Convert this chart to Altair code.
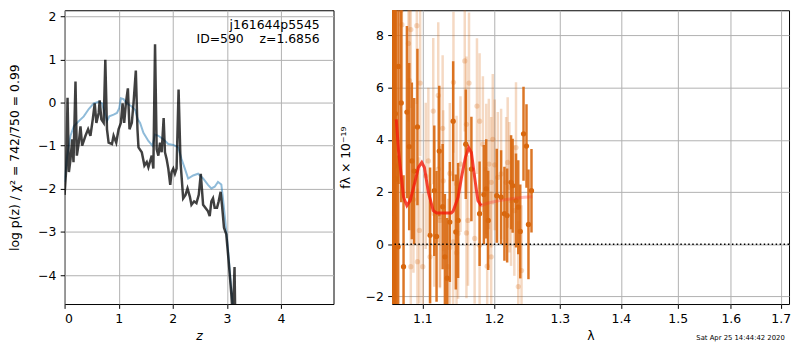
import altair as alt
import pandas as pd

# ---------------- left panel: log p(z) ----------------
z_pz = [0.000,0.031,0.055,0.080,0.110,0.141,0.165,0.202,0.227,0.263,
        0.294,0.325,0.386,0.435,0.478,0.521,0.557,0.588,0.631,0.649,
        0.680,0.723,0.753,0.784,0.814,0.876,0.906,0.955,0.998,1.041,
        1.072,1.102,1.133,1.170,1.200,1.243,1.274,1.317,1.347,1.366,
        1.427,1.476,1.519,1.549,1.611,1.641,1.672,1.702,1.733,1.764,
        1.794,1.831,1.855,1.886,1.917,1.953,1.978,2.009,2.039,2.070,
        2.107,2.143,2.192,2.235,2.272,2.315,2.345,2.394,2.437,2.480,
        2.517,2.560,2.602,2.651,2.682,2.713,2.743,2.774,2.817,2.848,
        2.884,2.909,2.946,2.988,3.031,3.080,3.111,3.141,3.160]
logp = [-2.14,-1.53,0.11,-1.61,-1.31,-0.85,-1.38,0.49,-1.23,-0.93,
        -0.55,-1.00,-0.77,-0.62,-0.77,-0.39,-0.02,-0.47,-0.24,0.05,
        -0.39,-0.47,0.99,-0.62,-0.93,-0.96,-0.77,-0.93,-0.62,-0.47,
        -0.02,-0.47,-0.02,0.33,-0.62,-0.47,-0.02,0.74,-0.62,-1.04,
        -1.15,-1.46,-1.38,-1.50,-1.23,-1.53,1.35,-1.08,-1.23,-0.93,
        -1.15,-0.36,-1.15,-1.31,-1.53,-1.91,-1.61,-1.53,-1.65,-1.53,
        0.30,-1.38,-2.22,-2.14,-1.99,-2.18,-2.37,-2.29,-2.33,-2.14,
        -1.65,-2.37,-2.44,-2.52,-2.63,-2.29,-2.22,-2.44,-2.44,-2.29,
        -2.07,-2.37,-2.90,-3.05,-3.66,-4.42,-5.00,-3.81,-5.50]

z_chi = [0,0.049,0.110,0.171,0.263,0.355,0.447,0.539,0.631,0.692,
         0.741,0.784,0.827,0.906,0.968,1.010,1.041,1.090,1.151,1.243,
         1.304,1.353,1.396,1.457,1.549,1.623,1.672,1.733,1.825,1.917,
         2.009,2.100,2.162,2.223,2.284,2.376,2.468,2.560,2.651,2.713,
         2.774,2.835,2.897,2.927,2.970,3.019,3.068,3.141]
logp_chi = [-1.84,-1.23,-0.77,-0.55,-0.43,-0.32,-0.15,-0.02,0.02,-0.02,
            -0.24,-0.43,-0.32,-0.28,-0.24,-0.13,0.10,0.08,-0.02,-0.09,
            -0.17,-0.39,-0.47,-0.70,-0.89,-1.00,-0.74,-0.77,-0.85,-0.96,
            -0.98,-1.04,-1.31,-1.53,-1.76,-1.69,-1.65,-1.76,-1.91,-1.99,
            -1.95,-1.84,-1.90,-2.22,-2.75,-3.36,-4.12,-5.20]

z_ticks = [0, 1, 2, 3, 4]
logp_ticks = [-4, -3, -2, -1, 0, 1, 2]

label_lines = ["j161644p5545", "ID=590\u00a0\u00a0\u00a0\u00a0z=1.6856"]
label_z = [4.716, 4.716]
label_y = [1.715, 1.374]

# ---------------- right panel: spectrum ----------------
lam_dark = [1.0606,1.0615,1.0625,1.0635,1.0645,1.0655,1.0681,
            1.0686,1.0721,1.0751,1.0795,1.0825,1.0860,1.0891,1.0934,
            1.1103,1.1160,1.1191,1.1228,1.1274,1.1305,1.1336,1.1373,
            1.1419,1.1456,1.1488,1.1595,1.1675,1.1792,1.1853,1.1887,
            1.1916,1.2040,1.2104,1.2153,1.2193,1.2251,1.2275,1.2325,
            1.2359,1.2389,1.2438,1.2483,1.2513,1.2559]
f_dark = [2.0,4.0,1.0,3.0,5.0,2.5,-0.10,
          6.81,5.41,-0.86,5.06,3.74,3.19,2.80,4.49,
          0.34,2.05,0.30,3.57,1.44,-0.48,-1.30,0.85,
          4.71,0.47,0.91,3.83,2.88,1.17,1.90,2.12,
          0.91,1.86,1.80,1.17,1.10,2.37,2.24,1.67,
          1.42,0.49,4.23,3.76,0.76,2.05]
e_dark = [15,14,14,13,12,12,3.5,
          4.5,3.8,3.5,3.3,3.2,3.0,2.8,3.0,
          2.6,2.5,2.5,2.5,2.4,2.4,2.3,2.3,
          2.3,2.2,2.2,2.1,2.0,2.0,1.9,1.9,
          1.9,1.8,1.8,1.8,1.8,1.8,1.8,1.8,
          1.8,1.8,1.8,1.6,2.1,1.6]

lam_light = [1.0631,1.0644,1.0721,1.0730,1.0846,1.0926,1.0815,1.0829,1.0970,
             1.1214,1.1146,1.1274,1.1214,1.1160,1.1103,1.0846,1.0934,1.1005,
             1.0960,1.1282,1.1373,1.1423,1.1581,1.1641,1.1605,1.1754,1.1792,
             1.1839,1.1887,1.1925,1.1959,1.1982,1.2011,1.2055,1.2104,1.2178,
             1.2226,1.2251,1.2300,1.2325,1.2359,1.2408,1.1959,1.1901,1.1792,
             1.1721,1.1627,1.1605,1.1466,1.1488,1.1350,1.1373,1.1237,1.1466,
             1.1521,1.2201,1.1080,1.1045,1.0881,1.1237,1.1419]
f_light = [1.5,0.5,8.96,8.41,8.22,8.37,7.69,6.27,6.17,
           5.70,5.10,4.44,2.88,1.17,-0.48,-0.86,-0.67,-0.86,
           0.53,2.43,2.71,6.20,7.02,6.17,4.59,5.29,4.71,
           3.83,2.88,3.07,2.37,4.02,3.04,2.56,2.69,2.37,
           2.18,1.67,1.29,3.70,-1.62,-1.01,-0.48,-0.84,-0.04,
           0.22,0.91,0.43,-0.33,0.41,-0.86,-0.13,0.91,2.32,
           3.07,3.13,3.19,2.62,1.71,1.06,0.09]
e_light = [3.5,3.5,3.0,3.0,3.0,3.0,3.0,3.0,2.8,
           2.8,2.8,2.8,2.8,2.8,2.8,2.8,2.8,2.8,
           2.8,2.7,2.7,2.7,2.7,2.7,2.6,2.6,2.6,
           2.6,2.5,2.5,2.5,2.5,2.5,2.5,2.5,2.5,
           2.5,2.5,2.5,2.5,2.5,2.5,2.5,2.5,2.5,
           2.5,2.5,2.5,2.5,2.5,2.6,2.6,2.6,2.6,
           2.6,2.5,2.8,2.8,2.8,2.7,2.6]

lam_model = [1.0657,1.0686,1.0751,1.0795,1.0838,1.0904,1.0947,1.0992,1.1027,
             1.1080,1.1146,1.1190,1.1393,1.1419,1.1488,1.1535,1.1590,1.1636,
             1.1675,1.1721,1.1768,1.1815]
f_model = [4.78,3.57,1.80,1.48,1.67,2.43,2.94,3.13,2.94,
           1.99,1.29,1.20,1.20,1.27,1.80,2.56,3.32,3.70,
           3.51,2.56,1.67,1.48]

lam_model2 = [1.1790,1.1815,1.1880,1.1980,1.2100,1.2230,1.2350,1.2450,1.2572]
f_model2 = [1.50,1.48,1.55,1.62,1.68,1.73,1.77,1.80,1.82]

lam_ticks = [1.1, 1.2, 1.3, 1.4, 1.5, 1.6, 1.7]
f_ticks = [-2, 0, 2, 4, 6, 8]

stamp = ["Sat Apr 25 14:44:42 2020"]
stamp_lam = [1.7084]
stamp_f = [-3.65]

FONT = "DejaVu Sans"
DARK = "#d8670e"

# ---------------- build left ----------------
xz = alt.X("z:Q", scale=alt.Scale(domain=[0, 4.97], nice=False),
           axis=alt.Axis(values=z_ticks, format="d", title="z",
                         titleFontStyle="italic"))
yz = alt.Y("lp:Q", scale=alt.Scale(domain=[-4.67, 2.14], nice=False),
           axis=alt.Axis(values=logp_ticks, format="d", titlePadding=16,
                         title="log p(z) / χ² = 742/750 = 0.99"))

df_pz = pd.DataFrame({"z": z_pz, "lp": logp})
df_chi = pd.DataFrame({"z": z_chi, "lp": logp_chi})
df_lab = pd.DataFrame({"z": label_z, "lp": label_y, "t": label_lines})

blue = alt.Chart(df_chi).mark_line(color="#1f77b4", opacity=0.5, strokeWidth=2,
                                   clip=True).encode(x=xz, y=yz)
dark = alt.Chart(df_pz).mark_line(color="#000000", opacity=0.75, strokeWidth=2.5,
                                  clip=True).encode(x=xz, y=yz)
labs = alt.Chart(df_lab).mark_text(align="right", baseline="alphabetic",
                                   fontSize=12.5, font=FONT, color="black").encode(
    x="z:Q", y="lp:Q", text="t:N")

left = alt.layer(blue, dark, labs).properties(width=271, height=296)

# ---------------- build right ----------------
xl = alt.X("lam:Q", scale=alt.Scale(type="log", domain=[1.0602, 1.7173], nice=False),
           axis=alt.Axis(values=lam_ticks, format=".1f", title="λ"))
yl = alt.Y("f:Q", scale=alt.Scale(domain=[-2.29, 8.96], nice=False),
           axis=alt.Axis(values=f_ticks, format="d", title="fλ × 10⁻¹⁹"))

df_d = pd.DataFrame({"lam": lam_dark, "f": f_dark, "e": e_dark})
df_d["lo"] = df_d["f"] - df_d["e"]
df_d["hi"] = df_d["f"] + df_d["e"]
df_l = pd.DataFrame({"lam": lam_light, "f": f_light, "e": e_light})
df_l["lo"] = df_l["f"] - df_l["e"]
df_l["hi"] = df_l["f"] + df_l["e"]
df_m = pd.DataFrame({"lam": lam_model, "f": f_model})
df_m2 = pd.DataFrame({"lam": lam_model2, "f": f_model2})
df_zero = pd.DataFrame({"f": [0]})
df_stamp = pd.DataFrame({"lam": stamp_lam, "f": stamp_f, "t": stamp})

ylo = alt.Y("lo:Q", scale=alt.Scale(domain=[-2.29, 8.96], nice=False))
light_bars = alt.Chart(df_l).mark_rule(color=DARK, opacity=0.25, strokeWidth=2.5,
                                       clip=True).encode(x=xl, y=ylo, y2="hi:Q")
light_pts = alt.Chart(df_l).mark_circle(color=DARK, opacity=0.25, size=28,
                                        clip=True).encode(x=xl, y=yl)
dark_bars = alt.Chart(df_d).mark_rule(color=DARK, opacity=0.9, strokeWidth=2.5,
                                      clip=True).encode(x=xl, y=ylo, y2="hi:Q")
dark_pts = alt.Chart(df_d).mark_circle(color=DARK, opacity=1, size=28,
                                       clip=True).encode(x=xl, y=yl)
zero = alt.Chart(df_zero).mark_rule(color="black", strokeDash=[1.5, 2.5],
                                    strokeWidth=1.6).encode(y=yl)
model2 = alt.Chart(df_m2).mark_line(color="#ff3030", opacity=0.3, strokeWidth=3,
                                    clip=True).encode(x=xl, y=yl)
model = alt.Chart(df_m).mark_line(color="#f41a0a", opacity=0.8, strokeWidth=3,
                                  clip=True).encode(x=xl, y=yl)
stamp_txt = alt.Chart(df_stamp).mark_text(align="right", baseline="alphabetic",
                                          fontSize=6.9, font=FONT, color="black").encode(
    x="lam:Q", y="f:Q", text="t:N")

right = alt.layer(light_bars, light_pts, dark_bars, dark_pts, zero, model2, model,
                  stamp_txt).properties(width=400, height=296)

chart = alt.hconcat(left, right, spacing=59, bounds="flush").properties(
    padding={"left": 0, "top": 0, "right": 0, "bottom": 0}
).configure_view(stroke="black", strokeWidth=1).configure_axis(
    labelFont=FONT, titleFont=FONT, labelFontSize=12.5, titleFontSize=12.5,
    titleFontWeight="normal", labelColor="black", titleColor="black",
    tickColor="black", tickSize=4.4, tickWidth=1, labelPadding=4.4,
    domain=False, grid=True, gridColor="#b0b0b0", gridWidth=1,
).configure_axisX(titlePadding=4).configure_axisY(titlePadding=13)

chart.save("out.html", embed_options={"renderer": "svg", "actions": False})
